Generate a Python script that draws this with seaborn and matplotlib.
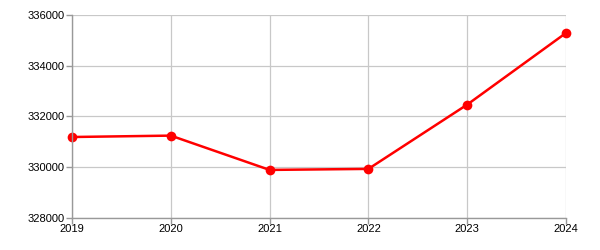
import matplotlib
matplotlib.use("Agg")
import matplotlib.pyplot as plt
import seaborn as sns
import pandas as pd

years = [2019, 2020, 2021, 2022, 2023, 2024]
values = [331180, 331235, 329880, 329920, 332460, 335290]
y_ticks = [328000, 330000, 332000, 334000, 336000]

sns.set_style("white")
plt.rcParams['font.family'] = ['Liberation Sans', 'DejaVu Sans']

df = pd.DataFrame({"year": years, "value": values})
fig = plt.figure(figsize=(6, 2.5), dpi=100)
ax = fig.add_axes([72/600, 1 - 217.5/250, (566-72)/600, (217.5-15)/250])

ax.set_xlim(2019, 2024)
ax.set_ylim(328000, 336000)
ax.set_xticks(years)
ax.set_yticks(y_ticks)
ax.grid(True, color="#c8c8c8", linewidth=0.9)
ax.set_axisbelow(True)

sns.lineplot(data=df, x="year", y="value", ax=ax, color="#ff0000", linewidth=1.8,
             marker="o", markersize=7, markeredgewidth=0, clip_on=False)

for s in ["top", "right"]:
    ax.spines[s].set_visible(False)
for s in ["left", "bottom"]:
    ax.spines[s].set_color("#999999")
    ax.spines[s].set_linewidth(1)
ax.tick_params(axis="both", which="both", direction="out", length=4, width=1,
               color="#999999", labelsize=8, labelcolor="#000000", pad=1,
               left=True, bottom=True)
ax.set_xlabel("")
ax.set_ylabel("")
ax.set_xticklabels([str(y) for y in years])
ax.set_yticklabels([str(v) for v in y_ticks])

fig.savefig("out.png", dpi=100)
